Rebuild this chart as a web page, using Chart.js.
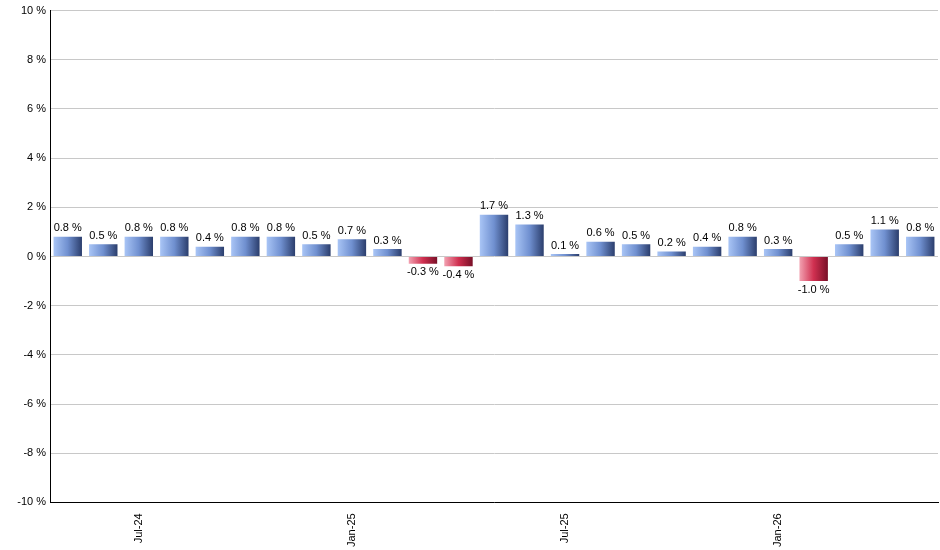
<!DOCTYPE html>
<html>
<head>
<meta charset="utf-8">
<script src="https://cdn.jsdelivr.net/npm/chart.js@4/dist/chart.umd.min.js"></script>
<style>
  body { margin: 0; background: #fff; }
  #wrap { width: 940px; height: 550px; }
</style>
</head>
<body>
<div id="wrap"><canvas id="chart"></canvas></div>
<script>
// monthly change, May-24 .. May-26
var months = ["May-24","Jun-24","Jul-24","Aug-24","Sep-24","Oct-24","Nov-24","Dec-24","Jan-25","Feb-25","Mar-25","Apr-25",
              "May-25","Jun-25","Jul-25","Aug-25","Sep-25","Oct-25","Nov-25","Dec-25","Jan-26","Feb-26","Mar-26","Apr-26","May-26"];
var values = [0.8,0.5,0.8,0.8,0.4,0.8,0.8,0.5,0.7,0.3,-0.3,-0.4,1.7,1.3,0.1,0.6,0.5,0.2,0.4,0.8,0.3,-1.0,0.5,1.1,0.8];
var shownTicks = ["Jul-24","Jan-25","Jul-25","Jan-26"];

function barFill(ctx) {
    var chart = ctx.chart, xs = chart.scales.x;
    var v = values[ctx.dataIndex];
    var fallback = (v < 0) ? '#d03050' : '#7090d0';
    if (!xs || v === undefined) return fallback;
    var cx = xs.getPixelForValue(ctx.dataIndex);
    if (!isFinite(cx)) return fallback;
    var g = chart.ctx.createLinearGradient(cx - 14, 0, cx + 14, 0);
    if (v < 0) {
        g.addColorStop(0, '#f2a0b0');
        g.addColorStop(0.5, '#d03050');
        g.addColorStop(1, '#7a1028');
    } else {
        g.addColorStop(0, '#a8c4f5');
        g.addColorStop(0.5, '#7090d0');
        g.addColorStop(1, '#2c3f6e');
    }
    return g;
}

var valueLabels = {
    id: 'valueLabels',
    afterDatasetsDraw: function(chart) {
        var c = chart.ctx, ys = chart.scales.y;
        c.save();
        c.font = '11px "Liberation Sans", Arial, sans-serif';
        c.fillStyle = '#000';
        c.textAlign = 'center';
        chart.getDatasetMeta(0).data.forEach(function(bar, i) {
            var v = values[i];
            var txt = v.toFixed(1) + ' %';
            if (v >= 0) {
                c.textBaseline = 'bottom';
                c.fillText(txt, bar.x, ys.getPixelForValue(v) - 3);
            } else {
                c.textBaseline = 'top';
                c.fillText(txt, bar.x, ys.getPixelForValue(v) + 3);
            }
        });
        c.restore();
    }
};

new Chart(document.getElementById('chart'), {
    type: 'bar',
    data: {
        labels: months,
        datasets: [{
            data: values,
            backgroundColor: barFill,
            borderWidth: 0,
            barPercentage: 0.8,
            categoryPercentage: 1.0
        }]
    },
    plugins: [valueLabels],
    options: {
        responsive: true,
        maintainAspectRatio: false,
        animation: false,
        layout: { padding: { top: 10, right: 2, left: 0, bottom: 0 } },
        plugins: { legend: { display: false }, tooltip: { enabled: false } },
        scales: {
            x: {
                grid: { display: false },
                border: { color: '#000' },
                ticks: {
                    autoSkip: false,
                    maxRotation: 90, minRotation: 90,
                    color: '#000',
                    font: { size: 11, family: '"Liberation Sans", Arial, sans-serif' },
                    callback: function(val, i) {
                        return shownTicks.indexOf(months[i]) >= 0 ? months[i] : '';
                    }
                }
            },
            y: {
                min: -10, max: 10,
                afterFit: function(s) { s.width = 50; },
                grid: { color: '#c8c8c8', drawTicks: false },
                border: { color: '#000' },
                ticks: {
                    stepSize: 2,
                    padding: 4,
                    color: '#000',
                    font: { size: 11, family: '"Liberation Sans", Arial, sans-serif' },
                    callback: function(v) { return v + ' %'; }
                }
            }
        }
    }
});
</script>
</body>
</html>
